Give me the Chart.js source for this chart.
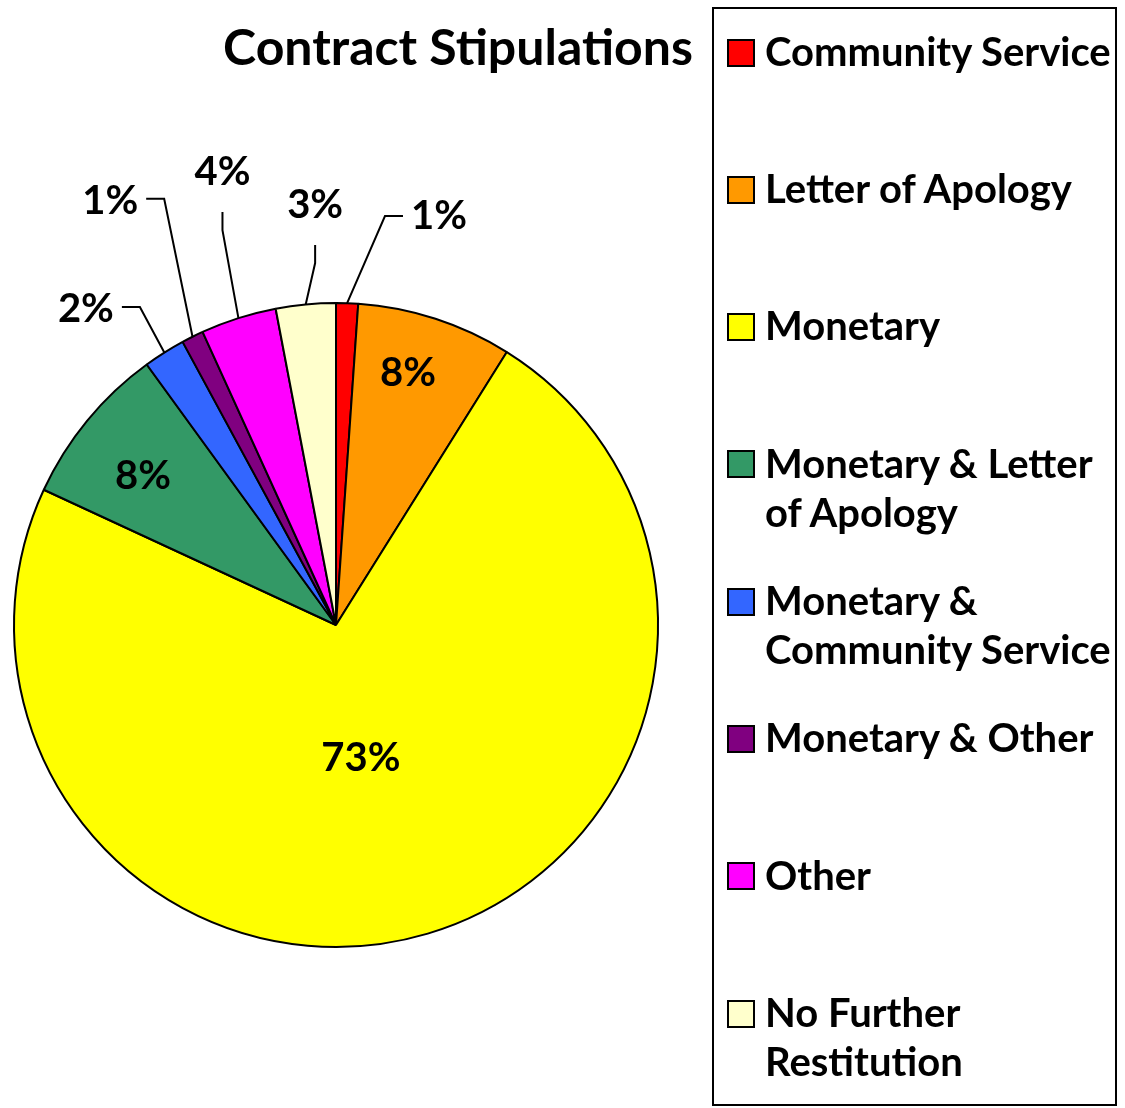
<!DOCTYPE html>
<html>
<head>
<meta charset="utf-8">
<script src="https://cdn.jsdelivr.net/npm/chart.js@4.4.1/dist/chart.umd.min.js"></script>
<style>
  body { margin: 0; background: #fff; }
  #wrap { position: relative; width: 1125px; height: 1108px; overflow: hidden; font-family: Lato, sans-serif; font-weight: bold; }
  #pie { position: absolute; left: 0; top: 0; }
  #title { position: absolute; right: 432px; top: 21px; font-size: 50px; line-height: 50px; white-space: nowrap; }
  #legend { position: absolute; left: 712px; top: 7px; width: 405px; height: 1099px; box-sizing: border-box; border: 2px solid #000; }
  .item { position: absolute; left: 0; width: 100%; }
  .swatch { position: absolute; left: 13px; width: 28px; height: 28px; box-sizing: border-box; border: 2px solid #000; }
  .text { position: absolute; left: 51px; width: 352px; font-size: 40px; line-height: 49px; }
</style>
</head>
<body>
<div id="wrap">
  <canvas id="pie" width="1125" height="1108"></canvas>
  <div id="title">Contract Stipulations</div>
  <div id="legend"></div>
</div>
<script>
const chartTitle = 'Contract Stipulations';
const categories = ['Community Service', 'Letter of Apology', 'Monetary', 'Monetary & Letter of Apology',
    'Monetary & Community Service', 'Monetary & Other', 'Other', 'No Further Restitution'];
const shares = [1.1, 7.8, 73.0, 8.1, 2.1, 1.1, 3.8, 3.0];
const sliceColors = ['#FF0000', '#FF9900', '#FFFF00', '#339966', '#3366FF', '#800080', '#FF00FF', '#FFFFCC'];

// where each percentage sits: radius factor, angle nudge (deg), leader direction
const labelLayout = [
    { r: 1.279, da: 4.85, leg: 'right' },
    { r: 0.817, da: -2.1 },
    { r: 0.417, da: 5.9 },
    { r: 0.759, da: -1.55 },
    { r: 1.16, da: 0.55, leg: 'left' },
    { r: 1.427, da: 4.5, leg: 'left' },
    { r: 1.276, da: 1.6, leg: 'up' },
    { r: 1.126, da: 2.1, leg: 'up' }
];

const LABEL_SIZE = 40;
const CAP = 0.7165; // Lato cap height / em

const sliceLabels = {
    id: 'sliceLabels',
    afterDatasetsDraw(chart) {
        const ctx = chart.ctx;
        const meta = chart.getDatasetMeta(0);
        const data = chart.data.datasets[0].data;
        const total = data.reduce((a, b) => a + b, 0);
        const cap = LABEL_SIZE * CAP;
        ctx.save();
        ctx.font = 'bold ' + LABEL_SIZE + 'px Lato';
        ctx.fillStyle = '#000';
        ctx.strokeStyle = '#000';
        ctx.lineWidth = 2;
        meta.data.forEach((arc, i) => {
            const p = arc.getProps(['x', 'y', 'startAngle', 'endAngle', 'outerRadius'], true);
            const mid = (p.startAngle + p.endAngle) / 2;
            const L = labelLayout[i];
            const a = mid + L.da * Math.PI / 180;
            const px = p.x + Math.cos(a) * p.outerRadius * L.r;
            const py = p.y + Math.sin(a) * p.outerRadius * L.r;
            const txt = Math.round(data[i] / total * 100) + '%';
            if (!L.leg) {
                ctx.textAlign = 'center';
                ctx.fillText(txt, px, py + cap / 2);
                return;
            }
            const sx = p.x + Math.cos(mid) * p.outerRadius;
            const sy = p.y + Math.sin(mid) * p.outerRadius;
            let ex = px, ey = py;
            if (L.leg === 'right') ex += 18;
            else if (L.leg === 'left') ex -= 18;
            else ey -= 18;
            ctx.beginPath();
            ctx.moveTo(sx, sy);
            ctx.lineTo(px, py);
            ctx.lineTo(ex, ey);
            ctx.stroke();
            if (L.leg === 'right') {
                ctx.textAlign = 'left';
                ctx.fillText(txt, ex + 8, ey + cap / 2 - 1);
            } else if (L.leg === 'left') {
                ctx.textAlign = 'right';
                ctx.fillText(txt, ex - 8, ey + cap / 2 + 1);
            } else {
                ctx.textAlign = 'center';
                ctx.fillText(txt, ex, ey - 27);
            }
        });
        ctx.restore();
    }
};

new Chart(document.getElementById('pie'), {
    type: 'pie',
    data: {
        labels: categories,
        datasets: [{
            data: shares,
            backgroundColor: sliceColors,
            borderColor: '#000',
            borderWidth: 2,
            hoverOffset: 0,
            hoverBorderWidth: 2
        }]
    },
    options: {
        responsive: false,
        animation: false,
        radius: 322,
        layout: { padding: { left: 0, right: 453, top: 302, bottom: 160 } },
        plugins: { legend: { display: false }, tooltip: { enabled: false }, title: { display: false } }
    },
    plugins: [sliceLabels]
});

document.getElementById('title').textContent = chartTitle;

// legend built from the same arrays
const legend = document.getElementById('legend');
categories.forEach((name, i) => {
    const capCenter = 52.5 + i * 137.3 - 7; // minus legend top
    const item = document.createElement('div');
    item.className = 'item';
    const sw = document.createElement('div');
    sw.className = 'swatch';
    sw.style.background = sliceColors[i];
    sw.style.top = (capCenter - 2 - 14) + 'px';
    const tx = document.createElement('div');
    tx.className = 'text';
    tx.style.top = (capCenter - 2 - 25.7) + 'px';
    tx.textContent = name;
    item.appendChild(sw);
    item.appendChild(tx);
    legend.appendChild(item);
});
</script>
</body>
</html>
